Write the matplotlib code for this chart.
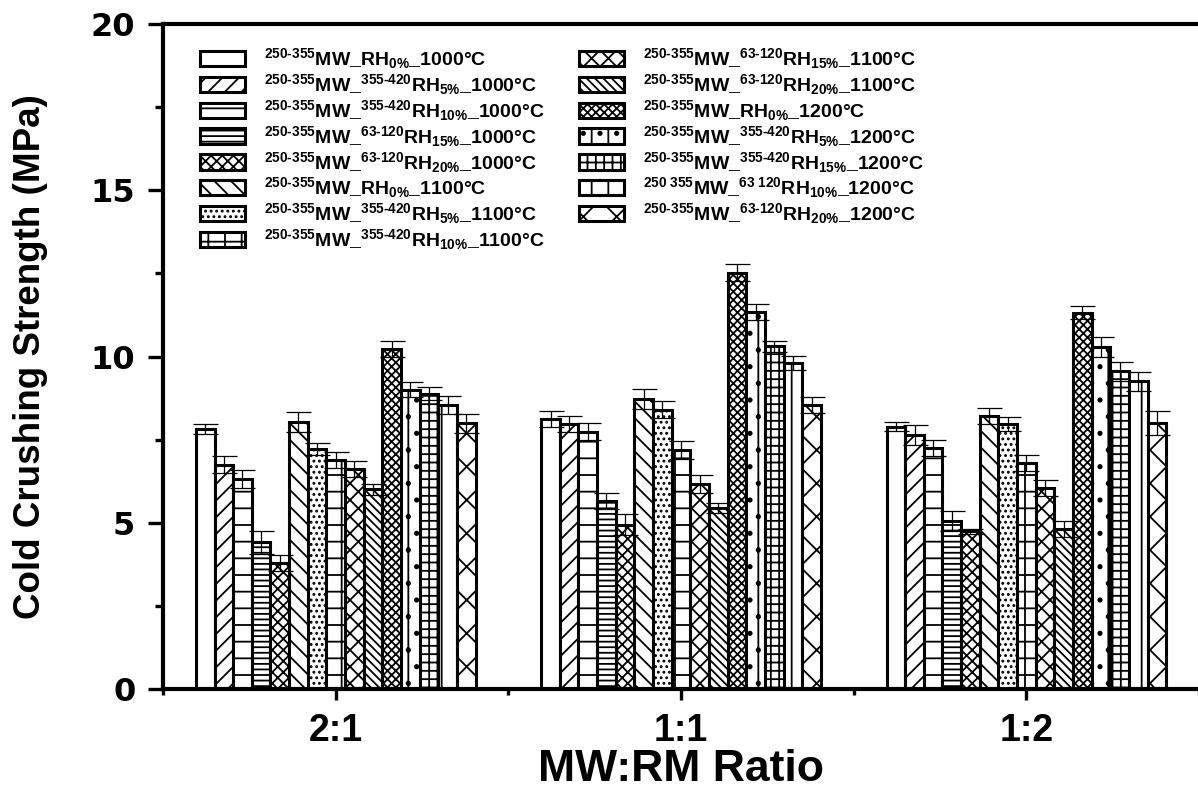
#!/usr/bin/env python3
"""Cold crushing strength of MW:RM refractory bodies, grouped bar chart."""

import numpy as np
import matplotlib
matplotlib.use('Agg')
import matplotlib.pyplot as plt
from matplotlib import font_manager
from matplotlib.ticker import FixedLocator, AutoMinorLocator

plt.rcParams['font.family'] = ['Liberation Sans', 'DejaVu Sans']
plt.rcParams['font.weight'] = 'bold'
plt.rcParams['mathtext.fontset'] = 'custom'
plt.rcParams['mathtext.rm'] = 'Liberation Sans'
plt.rcParams['mathtext.it'] = 'Liberation Sans:italic'
plt.rcParams['mathtext.bf'] = 'Liberation Sans:bold'
plt.rcParams['hatch.linewidth'] = 1.3

# data
ratios = ['2:1', '1:1', '1:2']

labels = [
    r'$^{\text{250-355}}$MW_RH$_{0\%}$_1000°C',
    r'$^{\text{250-355}}$MW_$^{\text{355-420}}$RH$_{5\%}$_1000°C',
    r'$^{\text{250-355}}$MW_$^{\text{355-420}}$RH$_{10\%}$_1000°C',
    r'$^{\text{250-355}}$MW_$^{\text{63-120}}$RH$_{15\%}$_1000°C',
    r'$^{\text{250-355}}$MW_$^{\text{63-120}}$RH$_{20\%}$_1000°C',
    r'$^{\text{250-355}}$MW_RH$_{0\%}$_1100°C',
    r'$^{\text{250-355}}$MW_$^{\text{355-420}}$RH$_{5\%}$_1100°C',
    r'$^{\text{250-355}}$MW_$^{\text{355-420}}$RH$_{10\%}$_1100°C',
    r'$^{\text{250-355}}$MW_$^{\text{63-120}}$RH$_{15\%}$_1100°C',
    r'$^{\text{250-355}}$MW_$^{\text{63-120}}$RH$_{20\%}$_1100°C',
    r'$^{\text{250-355}}$MW_RH$_{0\%}$_1200°C',
    r'$^{\text{250-355}}$MW_$^{\text{355-420}}$RH$_{5\%}$_1200°C',
    r'$^{\text{250-355}}$MW_$^{\text{355-420}}$RH$_{15\%}$_1200°C',
    r'$^{\text{250 355}}$MW_$^{\text{63 120}}$RH$_{10\%}$_1200°C',
    r'$^{\text{250-355}}$MW_$^{\text{63-120}}$RH$_{20\%}$_1200°C',
]

hatches = ['', '//', '-', '---', 'xxx', '\\\\', '...', '+', 'xx', '\\\\\\\\',
           'xxxx', '.|', '++', '|', 'x']

ccs_2_1 = [7.82, 6.75, 6.33, 4.41, 3.78, 8.02, 7.22, 6.89, 6.62, 6.01,
           10.24, 9.00, 8.88, 8.55, 7.99]
ccs_1_1 = [8.12, 7.97, 7.74, 5.66, 4.94, 8.73, 8.40, 7.20, 6.17, 5.44,
           12.52, 11.34, 10.31, 9.81, 8.55]
ccs_1_2 = [7.89, 7.64, 7.25, 5.04, 4.74, 8.21, 7.97, 6.80, 6.04, 4.81,
           11.32, 10.28, 9.55, 9.25, 7.99]

err_2_1 = [0.15, 0.26, 0.27, 0.35, 0.24, 0.30, 0.19, 0.23, 0.23, 0.17,
           0.24, 0.23, 0.20, 0.27, 0.28]
err_1_1 = [0.25, 0.25, 0.25, 0.25, 0.32, 0.30, 0.25, 0.27, 0.28, 0.14,
           0.25, 0.25, 0.17, 0.20, 0.24]
err_1_2 = [0.13, 0.31, 0.25, 0.30, 0.07, 0.24, 0.22, 0.25, 0.24, 0.25,
           0.20, 0.30, 0.28, 0.28, 0.36]


def narrow_family():
    """Use a condensed face for the axis titles if one is installed."""
    for name in ['Liberation Sans Narrow', 'Arial Narrow']:
        try:
            font_manager.findfont(name, fallback_to_default=False)
            return name, 0.82
        except ValueError:
            pass
    return 'Liberation Sans', 1.0


def main():
    values = np.array([ccs_2_1, ccs_1_1, ccs_1_2])
    errors = np.array([err_2_1, err_1_1, err_1_2])
    n = len(labels)
    x = np.arange(len(ratios))
    width = 0.054

    fig = plt.figure(figsize=(11.98, 7.93), dpi=100)
    ax = fig.add_axes([0.1361, 0.1311, 0.8648, 0.8386])

    for i in range(n):
        offset = (i - (n - 1) / 2) * width
        ax.bar(x + offset, values[:, i], width, facecolor='white',
               edgecolor='black', linewidth=2.2, hatch=hatches[i],
               label=labels[i], zorder=2)
        ax.errorbar(x + offset, values[:, i], yerr=errors[:, i], fmt='none',
                    ecolor='black', elinewidth=0.9, capsize=9,
                    capthick=0.9, zorder=3)

    ax.set_xlim(-0.5, 2.5)
    ax.set_ylim(0, 20)
    ax.set_xticks(x)
    ax.set_xticklabels(ratios)
    ax.xaxis.set_minor_locator(FixedLocator([-0.5, 0.5, 1.5, 2.5]))
    ax.set_yticks([0, 5, 10, 15, 20])
    ax.yaxis.set_minor_locator(AutoMinorLocator(2))

    ax.spines['right'].set_visible(False)
    for side in ['left', 'bottom', 'top']:
        ax.spines[side].set_linewidth(3)

    ax.tick_params(axis='y', which='major', direction='out', length=11,
                   width=2.4, pad=9)
    ax.tick_params(axis='y', which='minor', direction='out', length=5.5,
                   width=2.4)
    ax.tick_params(axis='x', which='major', direction='out', length=8,
                   width=2.4, pad=9)
    ax.tick_params(axis='x', which='minor', direction='out', length=4.5,
                   width=2.4)
    for t in ax.get_yticklabels():
        t.set_fontfamily('DejaVu Sans')
        t.set_fontweight('bold')
        t.set_fontsize(23)
    for t in ax.get_xticklabels():
        t.set_fontweight('bold')
        t.set_fontsize(27)

    fam, squeeze = narrow_family()
    ax.set_xlabel('MW:RM Ratio', fontsize=32 / squeeze, fontweight='bold',
                  family=[fam, 'Liberation Sans'], va='baseline')
    ax.xaxis.set_label_coords(0.5, -0.139)
    ax.set_ylabel('Cold Crushing Strength (MPa)', fontsize=26.5 / squeeze,
                  fontweight='bold', labelpad=31,
                  family=[fam, 'Liberation Sans'])

    ax.legend(loc='upper left', bbox_to_anchor=(0.019, 0.993), ncol=2,
              frameon=False, handlelength=2.3, handleheight=0.83,
              labelspacing=0.05, columnspacing=1.75, handletextpad=1.0,
              prop={'weight': 'bold', 'size': 14})

    fig.savefig('out.png', dpi=100, facecolor='white')
    plt.close(fig)


if __name__ == '__main__':
    main()
